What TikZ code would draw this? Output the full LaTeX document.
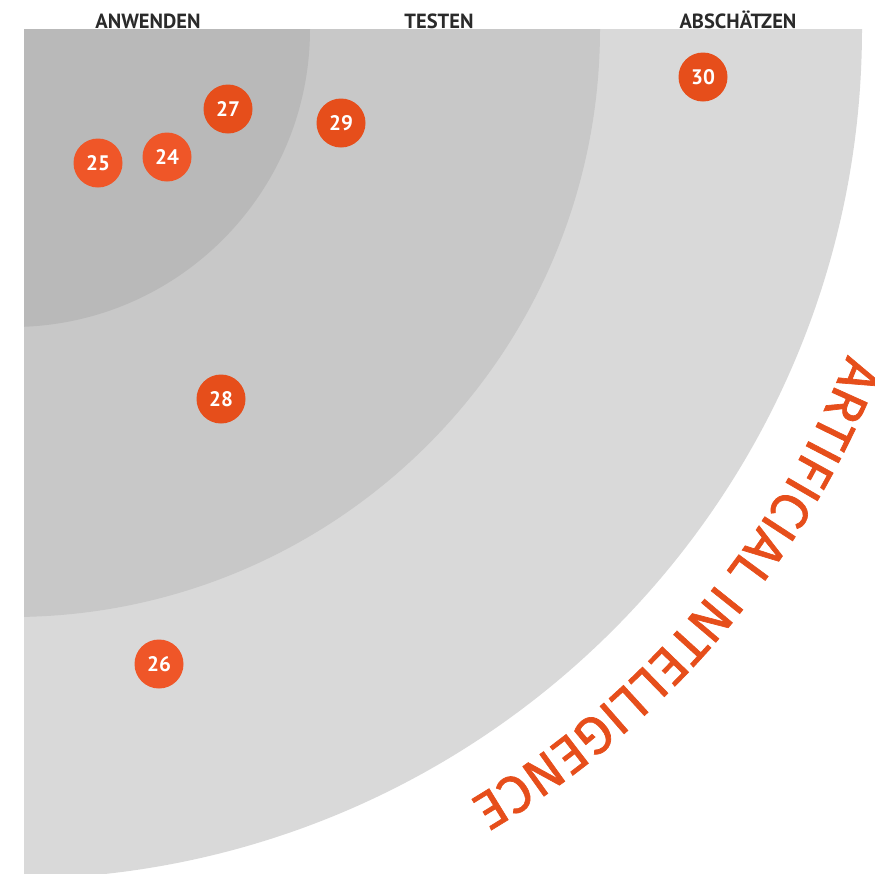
\documentclass[tikz,border=0pt]{standalone}
\usepackage{fontspec}
\setmainfont{PT Sans}
\newfontfamily\arcfamily[FakeBold=1.3]{Fira Sans}
\usetikzlibrary{decorations.text}
\definecolor{ringa}{HTML}{B9B9B9}
\definecolor{ringb}{HTML}{C8C8C8}
\definecolor{ringc}{HTML}{D9D9D9}
\definecolor{aidark}{HTML}{E64E1B}
\definecolor{ailight}{HTML}{EF5628}
\definecolor{headgray}{HTML}{2A2A2A}
\newcommand{\arcfont}{\arcfamily\fontsize{53}{60}\selectfont\color{aidark}}
\begin{document}
\begin{tikzpicture}[x=1pt, y=-1pt,
  dot/.style={circle, fill=aidark, text=white, minimum size=49pt, inner sep=0pt,
    font=\fontsize{21}{24}\selectfont\bfseries},
  dotlight/.style={dot, fill=ailight},
  head/.style={anchor=base, text=headgray, font=\fontsize{20.5}{24}\selectfont\bfseries}]
\useasboundingbox (0,0) rectangle (875,873);
\coordinate (o) at (12,29);
\begin{scope}
\clip (24,29) rectangle (875,873);
\fill[ringc] (o) -- ++(850,0) arc[start angle=0, end angle=90, radius=850] -- cycle;
\fill[ringb] (o) -- ++(588,0) arc[start angle=0, end angle=90, radius=588] -- cycle;
\fill[ringa] (o) -- ++(298,0) arc[start angle=0, end angle=90, radius=298] -- cycle;
\end{scope}
\node[head] (anwenden) at (148,28) {ANWENDEN};
\node[head] (testen) at (439,28) {TESTEN};
\node[head] (abschaetzen) at (738,28) {ABSCHÄTZEN};
\node[dotlight] (n25) at (98,163) {25};
\node[dotlight] (n24) at (167,157) {24};
\node[dot] (n27) at (228,109) {27};
\node[dot] (n29) at (341,123) {29};
\node[dot] (n30) at (703,77) {30};
\node[dot] (n28) at (221,399) {28};
\node[dotlight] (n26) at (159,664) {26};
\path[decorate, decoration={text along path, text align=left,
  text={|\arcfont|ARTIFICIAL INTELLIGENCE}}]
  (o) ++(21.3:897) arc[start angle=21.3, end angle=70, radius=897];
\end{tikzpicture}
\end{document}
